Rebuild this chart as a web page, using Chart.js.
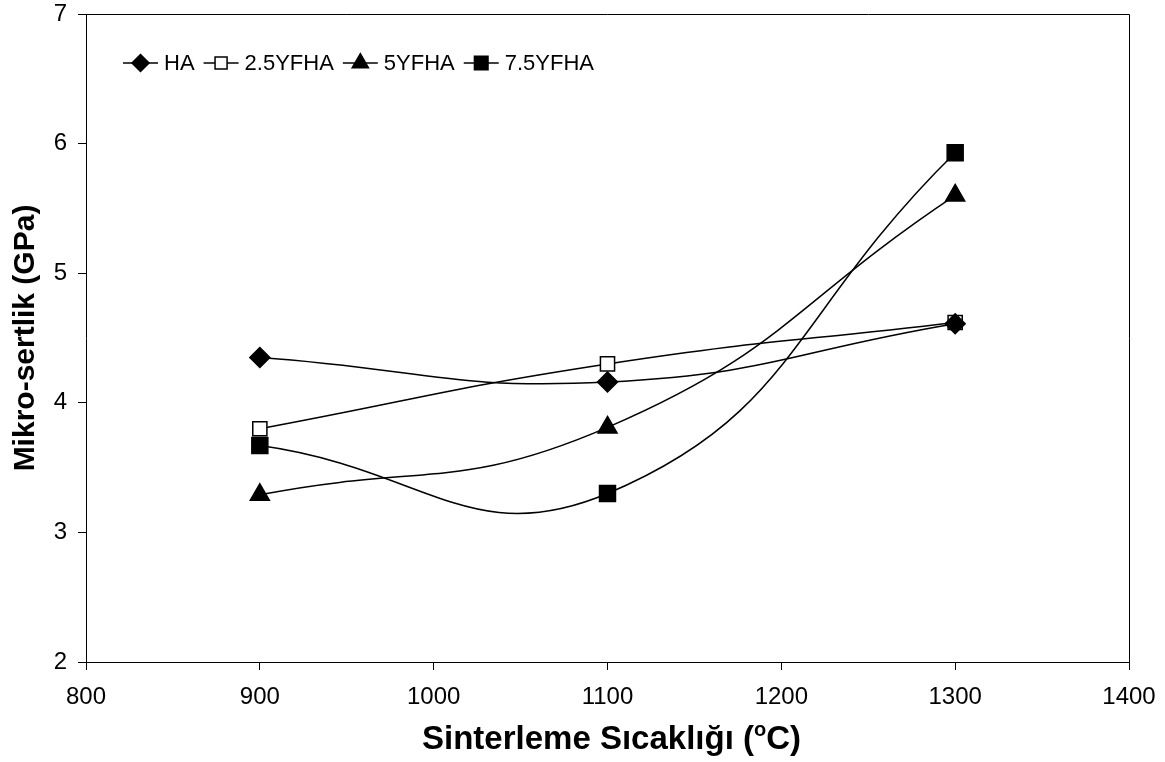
<!DOCTYPE html>
<html>
<head>
<meta charset="utf-8">
<script src="https://cdn.jsdelivr.net/npm/chart.js@4.4.1/dist/chart.umd.min.js"></script>
<style>
  html, body { margin: 0; padding: 0; background: #fff; }
  #wrap { width: 1165px; height: 762px; }
</style>
</head>
<body>
<div id="wrap"><canvas id="chart"></canvas></div>
<script>
// sintering temperature (°C) and micro-hardness (GPa) per composition
const temperatures = [900, 1100, 1300];
const seriesNames = ["HA", "2.5YFHA", "5YFHA", "7.5YFHA"];
const haValues = [4.35, 4.16, 4.61];
const yf25Values = [3.80, 4.30, 4.62];
const yf5Values = [3.29, 3.81, 5.60];
const yf75Values = [3.67, 3.30, 5.93];
const xTicks = [800, 900, 1000, 1100, 1200, 1300, 1400];
const yTicks = [2, 3, 4, 5, 6, 7];

const FONT = "'Liberation Sans', Arial, Helvetica, sans-serif";

const markers = [
  { pointStyle: "rectRot", radius: 10, fill: "#000" },
  { pointStyle: "rect", radius: 10, fill: "#fff" },
  { pointStyle: "triangle", radius: 11, fill: "#000" },
  { pointStyle: "rect", radius: 11.3, fill: "#000" }
];

const valueSets = [haValues, yf25Values, yf5Values, yf75Values];

const datasets = seriesNames.map((name, i) => ({
  label: name,
  data: temperatures.map((t, j) => ({ x: t, y: valueSets[i][j] })),
  borderColor: "#000",
  borderWidth: 1.5,
  tension: 0.47,
  pointStyle: markers[i].pointStyle,
  pointRadius: markers[i].radius,
  pointBackgroundColor: markers[i].fill,
  pointBorderColor: "#000",
  pointBorderWidth: 1.5
}));

// frame, legend row and the x title with a raised "o"
const decorations = {
  id: "decorations",
  beforeDatasetsDraw(chart) {
    const { ctx, chartArea: a } = chart;
    ctx.save();
    ctx.strokeStyle = "#000";
    ctx.lineWidth = 1;
    ctx.beginPath();
    ctx.moveTo(a.left, a.top + 0.5);
    ctx.lineTo(a.right + 0.5, a.top + 0.5);
    ctx.lineTo(a.right + 0.5, a.bottom);
    ctx.stroke();
    ctx.restore();
  },
  afterDraw(chart) {
    const { ctx, chartArea: a } = chart;
    ctx.save();

    // legend
    ctx.font = "22px " + FONT;
    ctx.textBaseline = "middle";
    ctx.textAlign = "left";
    let x = 123;
    const y = 63;
    chart.data.datasets.forEach((ds, i) => {
      ctx.strokeStyle = "#000";
      ctx.lineWidth = 1.5;
      ctx.beginPath();
      ctx.moveTo(x, y);
      ctx.lineTo(x + 35, y);
      ctx.stroke();
      ctx.fillStyle = markers[i].fill;
      Chart.helpers.drawPoint(ctx, {
        pointStyle: markers[i].pointStyle,
        radius: markers[i].radius * 0.85,
        rotation: 0,
        borderWidth: 1.5
      }, x + 17.5, y);
      ctx.fillStyle = "#000";
      ctx.fillText(ds.label, x + 41, y + 1);
      x += 41 + ctx.measureText(ds.label).width + 9;
    });

    // x axis title
    const main1 = "Sinterleme Sıcaklığı (";
    const sup = "o";
    const main2 = "C)";
    const big = "bold 33px " + FONT;
    const small = "bold 20px " + FONT;
    ctx.font = big;
    const w1 = ctx.measureText(main1).width;
    const w3 = ctx.measureText(main2).width;
    ctx.font = small;
    const w2 = ctx.measureText(sup).width;
    const total = w1 + w2 + w3;
    let tx = (a.left + a.right) / 2 + 4 - total / 2;
    const base = 749;
    ctx.textBaseline = "alphabetic";
    ctx.fillStyle = "#000";
    ctx.font = big;
    ctx.fillText(main1, tx, base);
    tx += w1;
    ctx.font = small;
    ctx.fillText(sup, tx, base - 13);
    tx += w2;
    ctx.font = big;
    ctx.fillText(main2, tx, base);
    ctx.restore();
  }
};

const plainNumber = v => String(v);

new Chart(document.getElementById("chart"), {
  type: "line",
  data: { datasets },
  options: {
    responsive: true,
    maintainAspectRatio: false,
    animation: false,
    layout: { padding: { top: 14, right: 36, left: 0, bottom: 0 } },
    plugins: {
      legend: { display: false },
      tooltip: { enabled: false }
    },
    scales: {
      x: {
        type: "linear",
        min: xTicks[0],
        max: xTicks[xTicks.length - 1],
        afterFit(scale) {
          scale.height = 100;
          scale.paddingLeft = 0;
          scale.paddingRight = 0;
        },
        afterBuildTicks(scale) { scale.ticks = xTicks.map(v => ({ value: v })); },
        grid: { drawOnChartArea: false, drawTicks: true, tickLength: 8, color: "#000", lineWidth: 1 },
        border: { display: true, color: "#000", width: 1 },
        ticks: { color: "#000", font: { family: FONT, size: 24 }, padding: 13, callback: plainNumber }
      },
      y: {
        type: "linear",
        min: yTicks[0],
        max: yTicks[yTicks.length - 1],
        afterFit(scale) {
          scale.width = 86;
          scale.paddingTop = 0;
          scale.paddingBottom = 0;
        },
        afterBuildTicks(scale) { scale.ticks = yTicks.map(v => ({ value: v })); },
        grid: { drawOnChartArea: false, drawTicks: true, tickLength: 8, color: "#000", lineWidth: 1 },
        border: { display: true, color: "#000", width: 1 },
        ticks: { color: "#000", font: { family: FONT, size: 24 }, padding: 11, callback: plainNumber },
        title: {
          display: true,
          text: "Mikro-sertlik (GPa)",
          color: "#000",
          font: { family: FONT, size: 30, weight: "bold" },
          padding: { top: 8, bottom: 0 }
        }
      }
    }
  },
  plugins: [decorations]
});
</script>
</body>
</html>
